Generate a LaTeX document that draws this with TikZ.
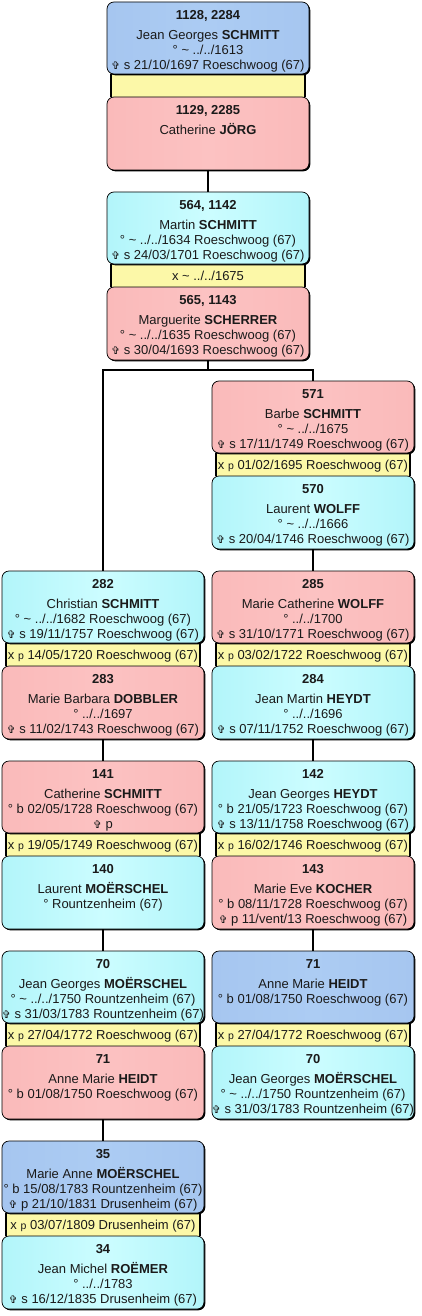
\documentclass[tikz,border=0pt]{standalone}
\usepackage{fontspec}
\setmainfont{Liberation Sans}
\newfontfamily\symfont{DejaVu Sans}
\usetikzlibrary{shadows}
\definecolor{blueL}{RGB}{166,198,240}
\definecolor{blueM}{RGB}{172,204,243}
\definecolor{cyanL}{RGB}{178,245,250}
\definecolor{cyanM}{RGB}{204,253,255}
\definecolor{pinkL}{RGB}{250,186,186}
\definecolor{pinkM}{RGB}{252,194,194}
\definecolor{bandY}{RGB}{252,248,168}
\definecolor{txt}{RGB}{26,26,26}
\newcommand\crs{{\symfont\fontsize{10.5}{12}\selectfont ✞}}
\newcommand\smp{{\fontsize{10.5}{12}\selectfont p}}
\newcommand\tld{\textasciitilde}
\newcommand\hd[1]{\rule{0pt}{12.5pt}\textbf{#1}\\[5pt]}
\tikzset{
  pbox/.style={draw=black, line width=0.7pt, rounded corners=7pt, minimum width=202pt,
    inner sep=0pt, outer sep=0pt,
    drop shadow={shadow xshift=1.3pt, shadow yshift=-1.3pt, opacity=1, fill=black}},
  bluebx/.style={left color=blueL, right color=blueL, middle color=blueM},
  cyanbx/.style={left color=cyanL, right color=cyanL, middle color=cyanM},
  pinkbx/.style={left color=pinkL, right color=pinkL, middle color=pinkM},
  band/.style={fill=bandY, minimum width=194pt, minimum height=23pt, inner sep=0pt, outer sep=0pt},
  bandedge/.style={line width=1.5pt, black},
  ptext/.style={font=\fontsize{13}{14.8}\selectfont, align=center, inner sep=0pt, text=txt},
  conn/.style={line width=1.6pt, black}
}
% #1 name, #2 cx, #3 y0, #4 style top, #5 text top, #6 band text, #7 style bottom, #8 text bottom
\newcommand\famblock[8]{%
  \node[band] (#1b) at (#2,#3+83.5) {};
  \draw[bandedge] (#1b.north west) -- (#1b.south west);
  \draw[bandedge] (#1b.north east) -- (#1b.south east);
  \node[ptext, anchor=base] (#1bt) at (#2,#3+88) {#6};
  \node[pbox,#4,minimum height=72pt,anchor=north] (#1u) at (#2,#3) {};
  \node[ptext,anchor=north] (#1ut) at (#2,#3+5) {#5};
  \node[pbox,#7,minimum height=73pt,anchor=north] (#1l) at (#2,#3+95) {};
  \node[ptext,anchor=north] (#1lt) at (#2,#3+100) {#8};
}
\begin{document}
\begin{tikzpicture}[x=1pt,y=-1pt]
\useasboundingbox (0,0) rectangle (422,1316);

\famblock{A}{208}{2}{bluebx}{\hd{1128, 2284}Jean Georges \textbf{SCHMITT}\\° \tld{} ../../1613\\\crs{} s 21/10/1697 Roeschwoog (67)}%
  {}{pinkbx}{\hd{1129, 2285}Catherine \textbf{JÖRG}}

\famblock{B}{208}{192}{cyanbx}{\hd{564, 1142}Martin \textbf{SCHMITT}\\° \tld{} ../../1634 Roeschwoog (67)\\\crs{} s 24/03/1701 Roeschwoog (67)}%
  {x \tld{} ../../1675}{pinkbx}{\hd{565, 1143}Marguerite \textbf{SCHERRER}\\° \tld{} ../../1635 Roeschwoog (67)\\\crs{} s 30/04/1693 Roeschwoog (67)}

\famblock{C}{313}{381}{pinkbx}{\hd{571}Barbe \textbf{SCHMITT}\\° \tld{} ../../1675\\\crs{} s 17/11/1749 Roeschwoog (67)}%
  {x \smp{} 01/02/1695 Roeschwoog (67)}{cyanbx}{\hd{570}Laurent \textbf{WOLFF}\\° \tld{} ../../1666\\\crs{} s 20/04/1746 Roeschwoog (67)}

\famblock{DL}{103}{571}{cyanbx}{\hd{282}Christian \textbf{SCHMITT}\\° \tld{} ../../1682 Roeschwoog (67)\\\crs{} s 19/11/1757 Roeschwoog (67)}%
  {x \smp{} 14/05/1720 Roeschwoog (67)}{pinkbx}{\hd{283}Marie Barbara \textbf{DOBBLER}\\° ../../1697\\\crs{} s 11/02/1743 Roeschwoog (67)}

\famblock{DR}{313}{571}{pinkbx}{\hd{285}Marie Catherine \textbf{WOLFF}\\° ../../1700\\\crs{} s 31/10/1771 Roeschwoog (67)}%
  {x \smp{} 03/02/1722 Roeschwoog (67)}{cyanbx}{\hd{284}Jean Martin \textbf{HEYDT}\\° ../../1696\\\crs{} s 07/11/1752 Roeschwoog (67)}

\famblock{EL}{103}{761}{pinkbx}{\hd{141}Catherine \textbf{SCHMITT}\\° b 02/05/1728 Roeschwoog (67)\\\crs{} p}%
  {x \smp{} 19/05/1749 Roeschwoog (67)}{cyanbx}{\hd{140}Laurent \textbf{MOËRSCHEL}\\° Rountzenheim (67)}

\famblock{ER}{313}{761}{cyanbx}{\hd{142}Jean Georges \textbf{HEYDT}\\° b 21/05/1723 Roeschwoog (67)\\\crs{} s 13/11/1758 Roeschwoog (67)}%
  {x \smp{} 16/02/1746 Roeschwoog (67)}{pinkbx}{\hd{143}Marie Eve \textbf{KOCHER}\\° b 08/11/1728 Roeschwoog (67)\\\crs{} p 11/vent/13 Roeschwoog (67)}

\famblock{FL}{103}{951}{cyanbx}{\hd{70}Jean Georges \textbf{MOËRSCHEL}\\° \tld{} ../../1750 Rountzenheim (67)\\\crs{} s 31/03/1783 Rountzenheim (67)}%
  {x \smp{} 27/04/1772 Roeschwoog (67)}{pinkbx}{\hd{71}Anne Marie \textbf{HEIDT}\\° b 01/08/1750 Roeschwoog (67)}

\famblock{FR}{313}{951}{bluebx}{\hd{71}Anne Marie \textbf{HEIDT}\\° b 01/08/1750 Roeschwoog (67)}%
  {x \smp{} 27/04/1772 Roeschwoog (67)}{cyanbx}{\hd{70}Jean Georges \textbf{MOËRSCHEL}\\° \tld{} ../../1750 Rountzenheim (67)\\\crs{} s 31/03/1783 Rountzenheim (67)}

\famblock{GL}{103}{1141}{bluebx}{\hd{35}Marie Anne \textbf{MOËRSCHEL}\\° b 15/08/1783 Rountzenheim (67)\\\crs{} p 21/10/1831 Drusenheim (67)}%
  {x \smp{} 03/07/1809 Drusenheim (67)}{cyanbx}{\hd{34}Jean Michel \textbf{ROËMER}\\° ../../1783\\\crs{} s 16/12/1835 Drusenheim (67)}

% connectors
\coordinate (split) at (208,370);
\draw[conn] (Al.south) -- (Bu.north);
\draw[conn] (Bl.south) -- (split);
\draw[conn] (split) -| (DLu.north);
\draw[conn] (split) -| (Cu.north);
\draw[conn] (Cl.south) -- (DRu.north);
\draw[conn] (DLl.south) -- (ELu.north);
\draw[conn] (DRl.south) -- (ERu.north);
\draw[conn] (ELl.south) -- (FLu.north);
\draw[conn] (ERl.south) -- (FRu.north);
\draw[conn] (FLl.south) -- (GLu.north);
\end{tikzpicture}
\end{document}
